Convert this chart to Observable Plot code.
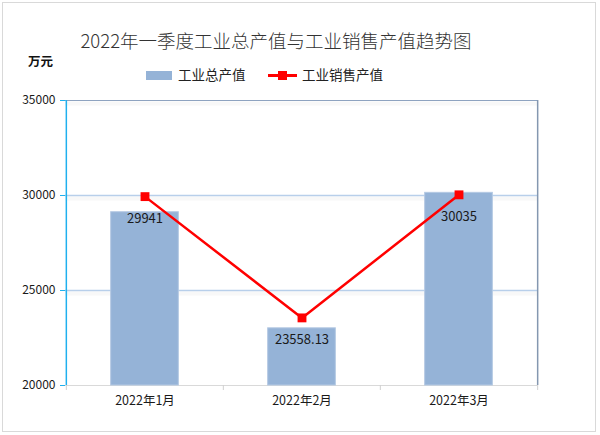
<!DOCTYPE html>
<html>
<head>
<meta charset="utf-8">
<script src="https://cdn.jsdelivr.net/npm/d3@7"></script>
<script src="https://cdn.jsdelivr.net/npm/@observablehq/plot@0.6"></script>
<style>
  html, body { margin: 0; padding: 0; background: #fff; }
  #chart { position: relative; width: 600px; height: 435px; font-family: "Noto Sans CJK SC", "Noto Sans", sans-serif; color: #222; }
  #frame { position: absolute; left: 2px; top: 2px; width: 594px; height: 430px; border: 1px solid #d9d9d9; box-sizing: border-box; }
  #title { position: absolute; left: 0; width: 552px; top: 27px; text-align: center; font-size: 18.5px; color: #333; line-height: 26px; white-space: nowrap; font-weight: 300; }
  #unit { position: absolute; left: 28px; top: 51px; font-size: 12.5px; font-weight: bold; color: #111; }
  .leg { position: absolute; top: 65px; font-size: 13.5px; line-height: 18px; color: #222; white-space: nowrap; }
  #plotwrap { position: absolute; left: 0; top: 90px; }
</style>
</head>
<body>
<div id="chart">
  <div id="frame"></div>
  <div id="title"></div>
  <div id="unit"></div>
  <div id="legend"></div>
  <div id="plotwrap"></div>
</div>
<script>
const titleText = "2022年一季度工业总产值与工业销售产值趋势图";
const unitText = "万元";
const seriesNames = ["工业总产值", "工业销售产值"];
const months = ["2022年1月", "2022年2月", "2022年3月"];
const grossOutput = [29120, 23010, 30140];
const salesOutput = [29941, 23558.13, 30035];
const salesLabels = ["29941", "23558.13", "30035"];
const yTicks = [20000, 25000, 30000, 35000];
const gridTicks = [25000, 30000];

const barColor = "#95b3d7";
const lineColor = "#ff0000";

document.getElementById("title").textContent = titleText;
document.getElementById("unit").textContent = unitText;

// legend
const legend = document.getElementById("legend");
legend.innerHTML = `
  <div class="leg" style="left:146px">
    <span style="display:inline-block;width:26px;height:9px;background:${barColor};vertical-align:middle;margin-right:6px;position:relative;top:-1px"></span>${seriesNames[0]}
  </div>
  <div class="leg" style="left:268px">
    <span style="display:inline-block;width:29px;height:9px;position:relative;vertical-align:middle;margin-right:5px;top:-1px">
      <span style="position:absolute;left:0;top:3px;width:29px;height:3px;background:${lineColor}"></span>
      <span style="position:absolute;left:10px;top:0;width:9px;height:9px;background:${lineColor}"></span>
    </span>${seriesNames[1]}
  </div>`;

const data = months.map((m, i) => ({month: m, gross: grossOutput[i], sales: salesOutput[i], label: salesLabels[i]}));

const W = 600, H = 345, mL = 65, mR = 63, mT = 10, mB = 50;
const bw = (W - mL - mR) / months.length;
const plotH = H - mT - mB;
const yMin = yTicks[0];

const chart = Plot.plot({
  width: W, height: H,
  marginTop: mT, marginBottom: mB, marginLeft: mL, marginRight: mR,
  style: {fontFamily: "'Noto Sans CJK SC', 'Noto Sans', sans-serif", fontSize: "12px", background: "transparent", overflow: "visible", color: "#222"},
  x: {type: "band", domain: months, padding: 0, label: null},
  y: {domain: [yTicks[0], yTicks[yTicks.length - 1]], label: null},
  marks: [
    // soft shadow under grid lines
    Plot.ruleY(gridTicks.concat([yTicks[yTicks.length - 1]]), {y: d => d, stroke: "#f8f8f8", strokeWidth: 4, dy: 3}),
    Plot.ruleY(gridTicks, {y: d => d, stroke: "#b8cfea", strokeWidth: 1.5}),
    Plot.ruleY([yTicks[yTicks.length - 1]], {y: d => d, stroke: "#8ea3c0", strokeWidth: 1.2}),
    Plot.ruleY([yMin], {y: d => d, stroke: "#d9d9d9", strokeWidth: 1.2}),
    // x ticks at band boundaries
    Plot.ruleX(months, {x: d => d, dx: -bw / 2, insetTop: plotH, insetBottom: -5, stroke: "#d0d0d0"}),
    Plot.ruleX([months[months.length - 1]], {x: d => d, dx: bw / 2, insetTop: plotH, insetBottom: -5, stroke: "#d0d0d0"}),
    // bars
    Plot.barY(data, {x: "month", y1: d => yMin, y2: "gross", fill: barColor, stroke: "#b4c9e3", strokeWidth: 1, insetLeft: (bw - 68) / 2, insetRight: (bw - 68) / 2}),
    // y axis line and right border
    Plot.ruleX([months[0]], {x: d => d, dx: -bw / 2, stroke: "#1fb0ee", strokeWidth: 1.5}),
    Plot.ruleX([months[months.length - 1]], {x: d => d, dx: bw / 2, stroke: "#8497b0", strokeWidth: 1.5}),
    // line series
    Plot.line(data, {x: "month", y: "sales", stroke: lineColor, strokeWidth: 2.5}),
    Plot.dot(data, {x: "month", y: "sales", symbol: "square", r: 5, fill: lineColor, stroke: "none"}),
    Plot.text(data, {x: "month", y: "sales", text: "label", dy: 22, fontSize: 13, fill: "#1a1a1a"}),
    // axes
    Plot.axisY(yTicks, {tickSize: 5, tickPadding: 5, stroke: "#1fb0ee", color: "#1a1a1a", fontSize: 12, tickFormat: d => String(d), label: null}),
    Plot.axisX({tickSize: 0, tickPadding: 11, fontSize: 12.5, color: "#1a1a1a", label: null})
  ]
});
document.getElementById("plotwrap").appendChild(chart);
</script>
</body>
</html>
